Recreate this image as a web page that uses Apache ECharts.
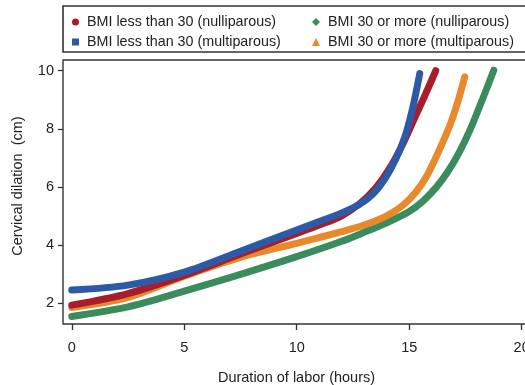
<!DOCTYPE html>
<html>
<head>
<meta charset="utf-8">
<script src="https://cdn.jsdelivr.net/npm/echarts@6/dist/echarts.min.js"></script>
<style>
html,body{margin:0;padding:0;background:#fff;}
#chart{width:525px;height:385px;}
</style>
</head>
<body>
<div id="chart"></div>
<script>
// Series names
var seriesNames = [
  'BMI less than 30 (nulliparous)',
  'BMI less than 30 (multiparous)',
  'BMI 30 or more (nulliparous)',
  'BMI 30 or more (multiparous)'
];
// Hours (x) and cervical dilation (y) for each curve
var redX    = [0, 2.5, 5, 7.5, 10, 11, 12, 12.8, 13.5, 14.1, 14.7, 15.2, 15.7, 16.18];
var redY    = [1.92, 2.32, 2.95, 3.68, 4.39, 4.68, 5.0, 5.42, 5.95, 6.6, 7.45, 8.3, 9.15, 10.0];
var blueX   = [0, 2.5, 5, 7.5, 10, 11, 12, 12.8, 13.4, 13.9, 14.4, 14.8, 15.15, 15.47];
var blueY   = [2.44, 2.61, 3.06, 3.78, 4.51, 4.8, 5.1, 5.4, 5.76, 6.25, 6.95, 7.7, 8.7, 9.9];
var greenX  = [0, 2.5, 5, 7.5, 10, 12, 13, 14, 15, 15.6, 16.2, 16.7, 17.2, 17.7, 18.25, 18.76];
var greenY  = [1.53, 1.86, 2.4, 2.98, 3.59, 4.12, 4.43, 4.76, 5.15, 5.5, 5.98, 6.5, 7.15, 7.95, 9.0, 10.02];
var orangeX = [0, 2.5, 5, 7.5, 10, 11, 12, 13, 14, 14.7, 15.3, 15.8, 16.3, 16.8, 17.15, 17.47];
var orangeY = [1.84, 2.19, 2.92, 3.57, 4.05, 4.25, 4.45, 4.68, 5.0, 5.35, 5.82, 6.4, 7.2, 8.1, 8.9, 9.79];
// Tick labels
var xTicks = [0, 5, 10, 15, 20];
var yTicks = [2, 4, 6, 8, 10];

function pairs(xs, ys){ return xs.map(function(x,i){ return [x, ys[i]]; }); }

var colors = ['#a81c2c', '#2d5aa7', '#3b8c5c', '#e8892c'];
var icons  = ['circle', 'rect', 'diamond', 'triangle'];
var dataSets = [pairs(redX, redY), pairs(blueX, blueY), pairs(greenX, greenY), pairs(orangeX, orangeY)];

var font = '"Liberation Sans", Arial, Helvetica, sans-serif';

var chart = echarts.init(document.getElementById('chart'), null, {renderer:'canvas'});
var series = seriesNames.map(function(n, i){
  return {
    name: n, type: 'line', data: dataSets[i], smooth: 0.3, symbol: 'none',
    color: colors[i],
    lineStyle: {width: 7, color: colors[i], cap: 'round', join: 'round'},
    animation: false
  };
});
// draw order: green under, orange, red, blue on top
series = [series[2], series[3], series[0], series[1]];

chart.setOption({
  animation: false,
  backgroundColor: '#fff',
  grid: {left: 63, top: 60, right: -5, bottom: 61, show: true, borderColor: '#333', borderWidth: 1.4,
         outerBoundsMode: 'none', containLabel: false},
  xAxis: {
    type: 'value', min: -0.39, max: 20.37,
    name: 'Duration of labor (hours)', nameLocation: 'middle', nameGap: 46,
    nameTextStyle: {fontFamily: font, fontSize: 14.5, color: '#222'},
    axisLine: {show: false, onZero: false},
    splitLine: {show: false},
    axisTick: {show: true, length: 6, customValues: xTicks, lineStyle: {color: '#333', width: 1.3}},
    axisLabel: {customValues: xTicks, margin: 16, fontFamily: font, fontSize: 14.5, color: '#222'}
  },
  yAxis: {
    type: 'value', min: 1.27, max: 10.37,
    name: 'Cervical dilation  (cm)', nameLocation: 'middle', nameGap: 38, nameRotate: 90,
    nameTextStyle: {fontFamily: font, fontSize: 14.5, color: '#222', padding: [0, 0, 0, 12]},
    axisLine: {show: false, onZero: false},
    splitLine: {show: false},
    axisTick: {show: true, length: 5, customValues: yTicks, lineStyle: {color: '#333', width: 1.3}},
    axisLabel: {customValues: yTicks, margin: 9, fontFamily: font, fontSize: 14.5, color: '#222'}
  },
  legend: [
    {data: [{name: seriesNames[0], icon: icons[0]}, {name: seriesNames[1], icon: icons[1]}],
     orient: 'vertical', left: 67, top: 10, itemGap: 6, itemWidth: 7, itemHeight: 7,
     textStyle: {fontFamily: font, fontSize: 14.3, color: '#222', padding: [0,0,0,3]}},
    {data: [{name: seriesNames[2], icon: icons[2]}, {name: seriesNames[3], icon: icons[3]}],
     orient: 'vertical', left: 307, top: 10, itemGap: 6, itemWidth: 8, itemHeight: 8,
     textStyle: {fontFamily: font, fontSize: 14.3, color: '#222', padding: [0,0,0,3]}}
  ],
  graphic: [
    {type: 'rect', shape: {x: 63, y: 6, width: 480, height: 46}, style: {fill: 'none', stroke: '#333', lineWidth: 1.6}, silent: true}
  ],
  series: series
});
</script>
</body>
</html>
